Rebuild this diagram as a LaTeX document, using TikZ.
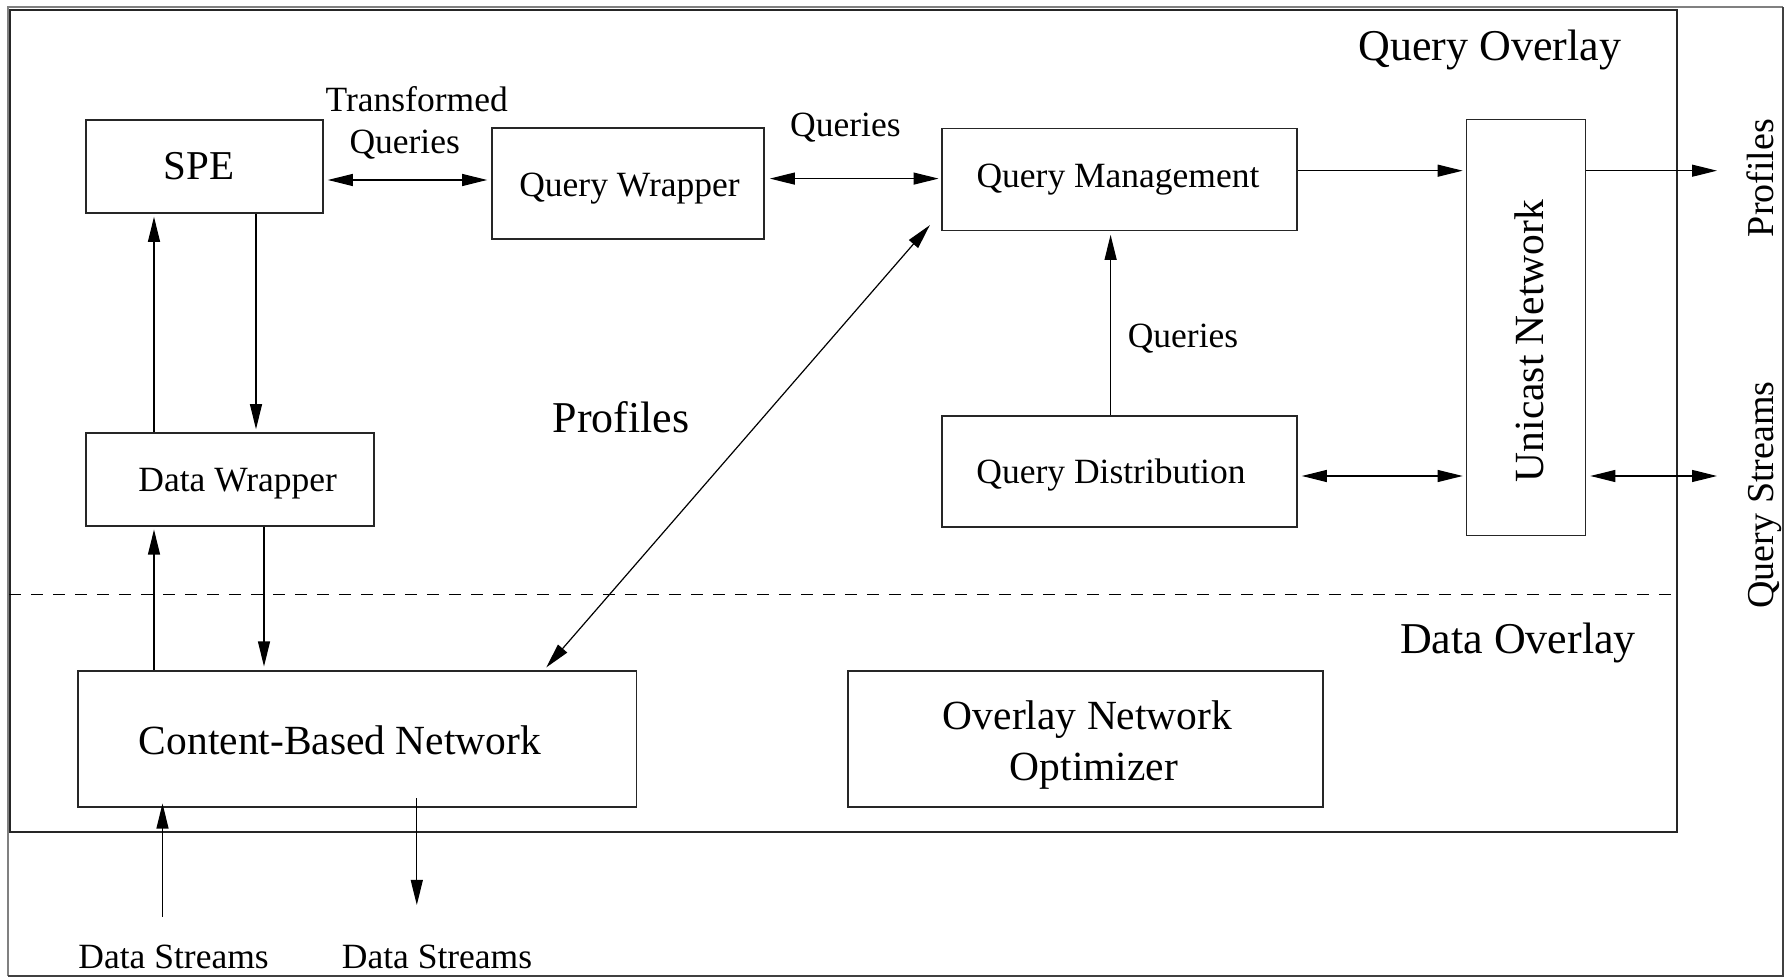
\documentclass[tikz,border=0pt]{standalone}
\usepackage{fontspec}
\setmainfont{Liberation Serif}
\usetikzlibrary{arrows.meta,calc}

\begin{document}
\begin{tikzpicture}[x=0.5pt,y=-0.5pt,
  box/.style={draw=black!85,line width=0.85pt,inner sep=0pt},
  tipA/.tip={Triangle[length=12.5pt,width=6pt]},
  arr/.style={-tipA,line width=0.6pt},
  dbl/.style={tipA-tipA,line width=0.6pt},
  lblL/.style={anchor=base,inner sep=0pt,font=\fontsize{22pt}{26pt}\selectfont},
  lblM/.style={anchor=base,inner sep=0pt,font=\fontsize{20.75pt}{25pt}\selectfont},
  lblS/.style={anchor=base,inner sep=0pt,font=\fontsize{17.75pt}{21pt}\selectfont},
  lblR/.style={anchor=base,inner sep=0pt,rotate=90,font=\fontsize{19pt}{23pt}\selectfont}]
\useasboundingbox (0,0) rectangle (1784,977);

% outer frame
\draw[black!50,line width=1pt] (8,976) -- (8,7.3) -- (1783,7.3);
\draw[black!75,line width=1pt] (1783,7.3) -- (1783,976) -- (8,976);

% overlay region and the dashed split between query and data overlays
\node[box,line width=1pt,minimum width=833.65pt,minimum height=410.85pt] (qov) at (843.65,420.85) {};
\draw[line width=0.6pt,dash pattern=on 6pt off 5pt] (qov.west |- 0,594.3) -- (qov.east |- 0,594.3);

% component boxes
\node[box,minimum width=118.5pt,minimum height=46.5pt] (spe) at (204.5,166.5) {};
\node[box,minimum width=136pt,minimum height=55.5pt] (qw) at (628,183.5) {};
\node[box,minimum width=177.5pt,minimum height=51pt] (qm) at (1119.5,179.5) {};
\node[box,minimum width=177.5pt,minimum height=55.4pt] (qd) at (1119.5,471.4) {};
\node[box,minimum width=59.5pt,minimum height=208pt] (un) at (1526,327.6) {};
\node[box,minimum width=144pt,minimum height=46.35pt] (dw) at (230,479.4) {};
\node[box,minimum width=279.3pt,minimum height=68pt] (cbn) at (357.3,738.7) {};
\node[box,minimum width=237.2pt,minimum height=68pt] (ono) at (1085.5,738.7) {};

% texts
\node[lblL] (qovT) at (1490,60.7) {Query Overlay};
\node[lblL] (dovT) at (1518,653.3) {Data Overlay};
\node[lblL] (prT) at (621,433) {Profiles};
\node[anchor=base,inner sep=0pt,font=\fontsize{20.5pt}{24pt}\selectfont] (speT) at (199,180) {SPE};
\node[lblS] (tqT1) at (416.7,111.7) {Transformed};
\node[lblS] (tqT2) at (404.7,154) {Queries};
\node[lblS] (qT1) at (845.4,136.5) {Queries};
\node[lblS] (qwT) at (629.5,196.7) {Query Wrapper};
\node[lblS] (qmT) at (1118,187.5) {Query Management};
\node[lblS] (qT2) at (1183,348) {Queries};
\node[lblS] (qdT) at (1111,484) {Query Distribution};
\node[lblS] (dwT) at (237.7,492) {Data Wrapper};
\node[lblM] (cbnT) at (340,755) {Content-Based Network};
\node[lblM] (onoT1) at (1087.6,730) {Overlay Network};
\node[lblM] (onoT2) at (1094,780.7) {Optimizer};
\node[lblM,rotate=90] (unT) at (1543,341) {Unicast Network};
\node[lblR] (pfT) at (1773,178) {Profiles};
\node[lblR] (qsT) at (1773,495) {Query Streams};
\node[lblS] (ds1T) at (173.6,969) {Data Streams};
\node[lblS] (ds2T) at (437,969) {Data Streams};

% free ends of the outside connectors
\coordinate (pfEnd) at (1717,170.7);
\coordinate (qsEnd) at (1717,476);
\coordinate (dsIn) at (162.5,916.7);
\coordinate (dsOut) at (416.8,905);

% connectors
\draw[dbl] ($(spe.east |- 0,180)+(4,0)$) -- ($(qw.west |- 0,180)+(-4,0)$);
\draw[dbl] ($(qw.east |- 0,178.6)+(5,0)$) -- ($(qm.west |- 0,178.6)+(-2.6,0)$);
\draw[arr] (qm.east |- 0,170.7) -- ($(un.west |- 0,170.7)+(-3,0)$);
\draw[arr] (un.east |- 0,170.7) -- (pfEnd);
\draw[arr] (qd.north -| 1110.6,0) -- ($(qm.south -| 1110.6,0)+(0,3.5)$);
\draw[dbl] ($(qd.east |- 0,476)+(4,0)$) -- ($(un.west |- 0,476)+(-3,0)$);
\draw[dbl] ($(un.east |- 0,476)+(4,0)$) -- (qsEnd);
\draw[arr] (spe.south -| 256,0) -- ($(dw.north -| 256,0)+(0,-3)$);
\draw[arr] (dw.north -| 154,0) -- ($(spe.south -| 154,0)+(0,3)$);
\draw[arr] (cbn.north -| 154,0) -- ($(dw.south -| 154,0)+(0,3)$);
\draw[arr] (dw.south -| 264,0) -- ($(cbn.north -| 264,0)+(0,-3.4)$);
\draw[dbl] ($(qm.south west)+(-11.3,-6.2)$) -- ($(cbn.north east)+(-91.2,-2.4)$);
\draw[arr] (dsIn) -- ($(cbn.south -| 162.5,0)+(0,-4)$);
\draw[arr] ($(cbn.south -| 416.8,0)+(0,-9.4)$) -- (dsOut);
\end{tikzpicture}
\end{document}
